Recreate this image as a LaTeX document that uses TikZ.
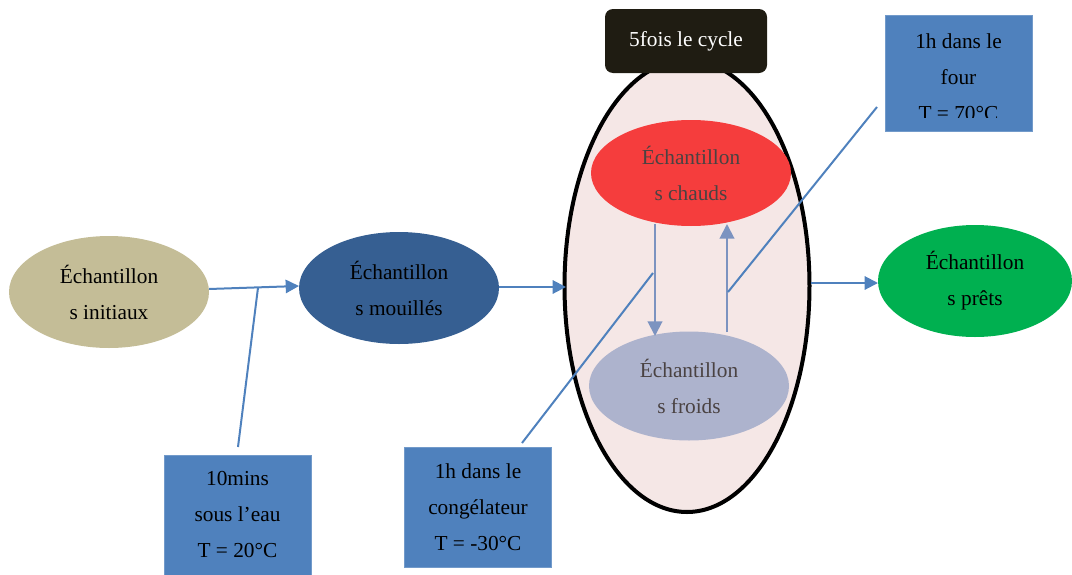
\documentclass[tikz,border=0pt]{standalone}
\usepackage{fontspec}
\setmainfont{Liberation Serif}
\usetikzlibrary{shapes.geometric,arrows.meta,calc}
\definecolor{tanc}{HTML}{C4BD97}
\definecolor{wetc}{HTML}{365F92}
\definecolor{pinkc}{HTML}{F5E7E6}
\definecolor{darkc}{HTML}{1F1C12}
\definecolor{redc}{HTML}{F53D3D}
\definecolor{coldc}{HTML}{ADB3CD}
\definecolor{greenc}{HTML}{00B050}
\definecolor{boxc}{HTML}{4F81BD}
\definecolor{innerc}{HTML}{7C93C0}
\definecolor{graytxt}{HTML}{4A4242}
\tikzset{
  ell/.style={ellipse,draw=none,inner sep=0pt,minimum width=150pt,minimum height=84pt,align=center,font=\fontsize{16}{27}\selectfont},
  infobox/.style={rectangle,fill=boxc,draw=boxc!80!white,inner sep=0pt,minimum width=110.25pt,minimum height=90pt,align=center,font=\fontsize{16}{27}\selectfont},
  flow/.style={draw=boxc,line width=1.5pt,-{Triangle[length=10pt,width=10pt]}},
  inflow/.style={draw=innerc,line width=1.5pt,-{Triangle[length=11pt,width=11pt]}},
  callout/.style={draw=boxc,line width=1.5pt},
}
\begin{document}
\begin{tikzpicture}[x=0.75pt,y=-0.75pt]
\useasboundingbox (0,0) rectangle (1072,575);
% big cycle ellipse
\node[ellipse,fill=pinkc,draw=black,line width=3pt,minimum width=183.75pt,minimum height=339pt,inner sep=0pt] (big) at (687,286) {};
\node[rectangle,rounded corners=6pt,fill=darkc,text=white,minimum width=121.5pt,minimum height=48pt,font=\fontsize{16}{27}\selectfont] (cycle) at (686,41) {5fois le cycle};
% sample ellipses
\node[ell,fill=tanc] (init) at (109,292) {Échantillon\\s initiaux};
\node[ell,fill=wetc] (wet) at (399,288) {Échantillon\\s mouillés};
\node[ell,fill=redc,text=graytxt,minimum height=79.5pt] (hot) at (691,173) {Échantillon\\s chauds};
\node[ell,fill=coldc,text=graytxt,minimum height=81.75pt] (cold) at (689,386) {Échantillon\\s froids};
\node[ell,fill=greenc,minimum width=145.5pt] (ready) at (975,281) {Échantillon\\s prêts};
% info boxes
\node[infobox] (water) at (237.5,515) {10mins\\sous l’eau\\T = 20°C};
\node[infobox] (freeze) at (478,507) {1h dans le\\congélateur\\T = -30°C};
\node[infobox,minimum height=87pt] (oven) at (958.5,73) {};
\begin{scope}
\clip (885,15) rectangle (1032,117);
\node[align=center,font=\fontsize{16}{27}\selectfont,anchor=north] (ovent) at (958.5,29) {1h dans le\\four\\T = 70°C};
\end{scope}
% main flow
\coordinate (a1) at (209,289);
\coordinate (a2) at (299,286);
\draw[flow] (a1) -- (a2);
\coordinate (j1) at (258,287.7);
\coordinate (w1) at (238,447);
\draw[callout] (w1) -- (j1);
\coordinate (b1) at (499,287);
\coordinate (b2) at (566,287);
\draw[flow] (b1) -- (b2);
\coordinate (c1) at (811,283);
\coordinate (c2) at (878,283);
\draw[flow] (c1) -- (c2);
% inner cycle arrows
\coordinate (d1) at (655,224);
\coordinate (d2) at (655,336);
\draw[inflow] (d1) -- (d2);
\coordinate (u1) at (727,332);
\coordinate (u2) at (727,224);
\draw[inflow] (u1) -- (u2);
% callouts
\coordinate (f1) at (522,443);
\coordinate (f2) at (653,273);
\draw[callout] (f1) -- (f2);
\coordinate (o1) at (877,107);
\coordinate (o2) at (728,292);
\draw[callout] (o1) -- (o2);
\end{tikzpicture}
\end{document}
